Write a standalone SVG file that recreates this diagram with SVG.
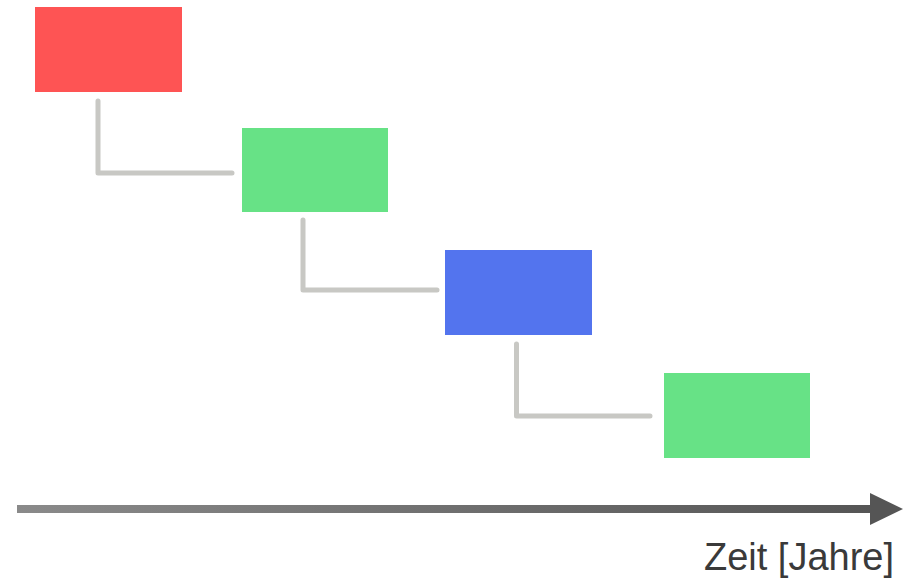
<svg xmlns="http://www.w3.org/2000/svg" width="920" height="585" viewBox="0 0 920 585">
  <defs>
    <linearGradient id="axisGrad" x1="0" y1="0" x2="1" y2="0">
      <stop offset="0" stop-color="#8a8a8a"/>
      <stop offset="1" stop-color="#555555"/>
    </linearGradient>
    <style>
      .conn { fill: none; stroke: #c8c8c4; stroke-width: 5; stroke-linecap: round; stroke-linejoin: round; }
      .label { font-family: "Liberation Sans", Arial, sans-serif; font-size: 38px; fill: #3a3a3a; }
    </style>
  </defs>
  <rect x="0" y="0" width="920" height="585" fill="#ffffff"/>
  <g id="connectors">
    <path class="conn" d="M98 101 V173 H232"/>
    <path class="conn" d="M303 220 V290 H437"/>
    <path class="conn" d="M516.5 344 V416 H650"/>
  </g>
  <g id="node1"><rect x="35" y="7" width="147" height="85" fill="#fe5454"/></g>
  <g id="node2"><rect x="242" y="128" width="146" height="84" fill="#67e286"/></g>
  <g id="node3"><rect x="445" y="250" width="147" height="85" fill="#5374ee"/></g>
  <g id="node4"><rect x="664" y="373" width="146" height="85" fill="#67e286"/></g>
  <g id="axis">
    <rect x="17" y="505" width="858" height="8" fill="url(#axisGrad)"/>
    <polygon points="870,493 903,509 870,525" fill="#555555"/>
    <text class="label" x="894" y="570" text-anchor="end">Zeit [Jahre]</text>
  </g>
</svg>
